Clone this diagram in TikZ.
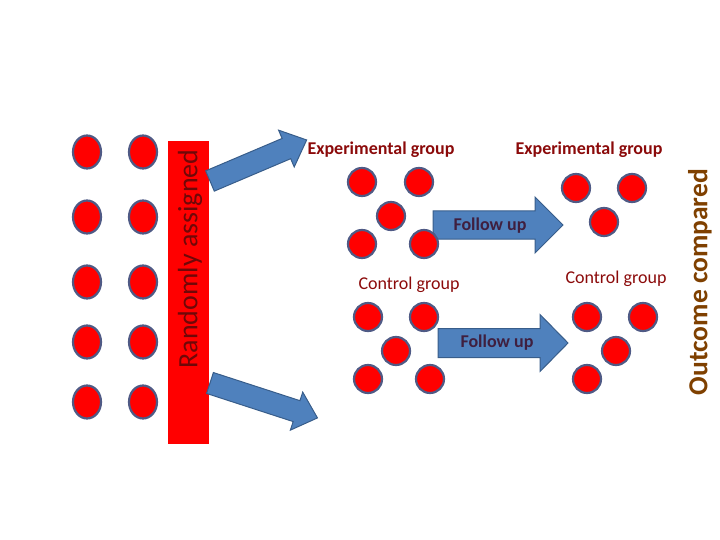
\documentclass[tikz,border=0pt]{standalone}
\usepackage{fontspec}
\setmainfont{Carlito}
\usetikzlibrary{shapes.geometric}
\definecolor{dotb}{HTML}{4F5A85}
\definecolor{arrf}{HTML}{4F81BD}
\definecolor{arrd}{HTML}{385D8A}
\definecolor{lab}{HTML}{8B0A0A}
\definecolor{fol}{HTML}{3F1F3F}
\definecolor{outc}{HTML}{7F4000}
\begin{document}
\begin{tikzpicture}[x=1pt,y=-1pt,
  dot/.style={circle,fill=red,draw=dotb,line width=2.2pt,minimum size=28pt,inner sep=0pt},
  ldot/.style={ellipse,fill=red,draw=dotb,line width=2.2pt,minimum width=28pt,minimum height=33pt,inner sep=0pt},
  pics/barr/.style n args={4}{code={\draw[fill=arrf,draw=arrd,line width=1pt,line join=miter]
     (0,-#2)--(#1-#4,-#2)--(#1-#4,-#3)--(#1,0)--(#1-#4,#3)--(#1-#4,#2)--(0,#2)--cycle;}},
  expl/.style={text=lab,font=\bfseries\fontsize{18}{18}\selectfont},
  ctl/.style={text=lab,font=\fontsize{18}{18}\selectfont},
  fu/.style={text=fol,font=\bfseries\fontsize{18}{18}\selectfont}]
\useasboundingbox (0,0) rectangle (720,540);
% left dots
\foreach \c [count=\i] in {87,143}{
  \foreach \r [count=\j] in {152,217,282,342,402}{
    \node[ldot] (l\i\j) at (\c,\r) {};}}
% bar
\node[fill=red,minimum width=41pt,minimum height=303pt,inner sep=0pt] (bar) at (188.5,292.5) {};
\node[rotate=90,text=lab!80!black,font=\fontsize{28}{28}\selectfont] (ra) at (190,259) {Randomly assigned};
% slanted arrows
\pic[rotate=23] at (210,181) {barr={105}{11}{20}{22}};
\pic[rotate=-18] at (210,383) {barr={113}{11}{20}{22}};
% follow up arrows
\pic at (433,225) {barr={130}{14}{28}{28}};
\node[fu] (t1) at (490,226) {Follow up};
\pic at (438,343) {barr={130}{14.5}{28.5}{28}};
\node[fu] (t2) at (497,343) {Follow up};
% middle dots
\node[dot] (e1) at (362,182) {};
\node[dot] (e2) at (419,182) {};
\node[dot] (e3) at (391,216) {};
\node[dot] (e4) at (362,244) {};
\node[dot] (e5) at (424,244) {};
\node[dot] (c1) at (368,317) {};
\node[dot] (c2) at (424,317) {};
\node[dot] (c3) at (396,351) {};
\node[dot] (c4) at (368,379) {};
\node[dot] (c5) at (430,379) {};
% right dots
\node[dot] (r1) at (576,188) {};
\node[dot] (r2) at (632,188) {};
\node[dot] (r3) at (604,222) {};
\node[dot] (s1) at (587,317) {};
\node[dot] (s2) at (643,317) {};
\node[dot] (s3) at (616,351) {};
\node[dot] (s4) at (587,379) {};
% labels
\node[expl] (x1) at (381,150) {Experimental group};
\node[expl] (x2) at (589,150) {Experimental group};
\node[ctl] (y1) at (409,285) {Control group};
\node[ctl] (y2) at (616,279) {Control group};
\node[rotate=90,text=outc,font=\bfseries\fontsize{27.5}{27.5}\selectfont] (oc) at (700,282) {Outcome compared};
\end{tikzpicture}
\end{document}
